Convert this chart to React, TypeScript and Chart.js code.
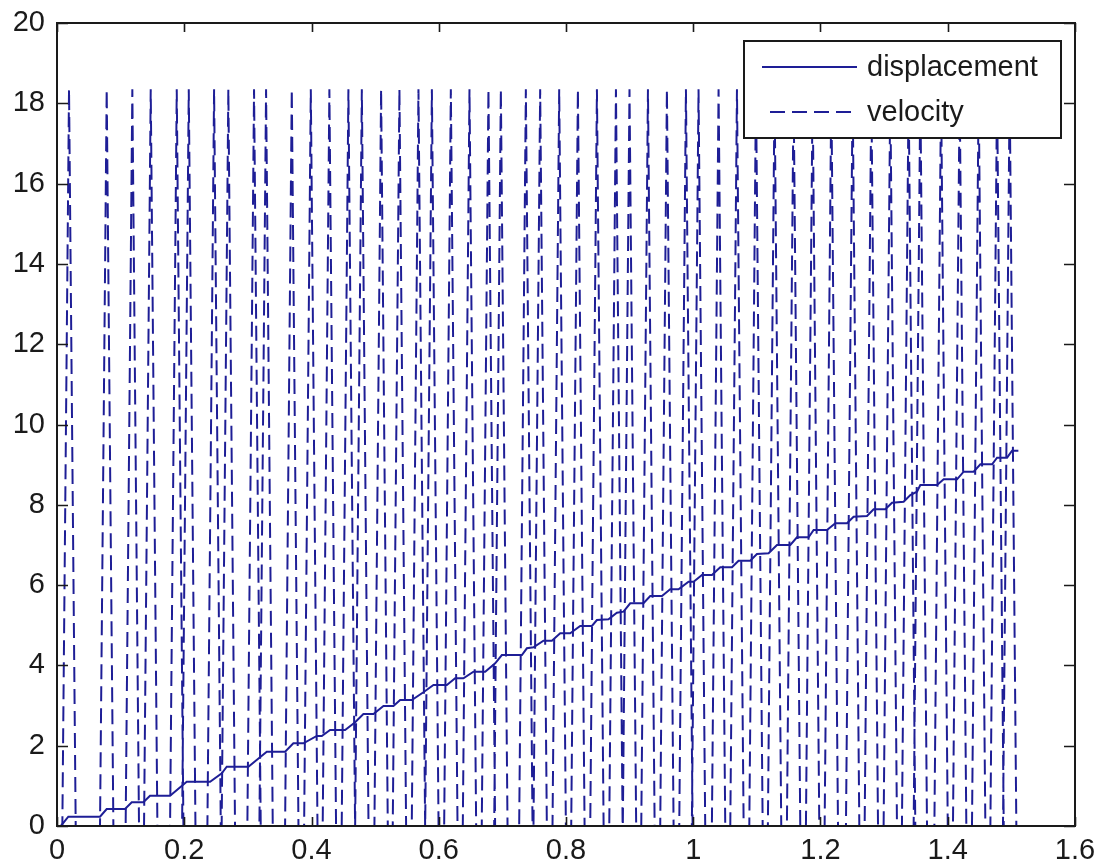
import React, { useEffect, useRef } from 'react';
import { Chart, registerables } from 'chart.js';

Chart.register(...registerables);

// Axis ticks
const xTicks = [0, 0.2, 0.4, 0.6, 0.8, 1, 1.2, 1.4, 1.6];
const yTicks = [0, 2, 4, 6, 8, 10, 12, 14, 16, 18, 20];

// Displacement (staircase)
const dispX = [0, 0.006, 0.0178, 0.0676, 0.0781, 0.1069, 0.1175, 0.1357, 0.1462, 0.1777, 0.2039, 0.2406, 0.259, 0.2668, 0.3008, 0.3297, 0.3585, 0.3715, 0.3873, 0.4083, 0.4162, 0.4292, 0.4528, 0.4686, 0.4816, 0.4973, 0.5131, 0.5288, 0.5393, 0.5577, 0.5759, 0.5917, 0.6127, 0.6258, 0.6388, 0.6546, 0.673, 0.6887, 0.6992, 0.7307, 0.7385, 0.7489, 0.7646, 0.7778, 0.7909, 0.8066, 0.8223, 0.8407, 0.8486, 0.8668, 0.88, 0.8904, 0.9009, 0.9218, 0.9324, 0.9508, 0.9638, 0.9769, 0.9926, 1.0005, 1.0137, 1.0294, 1.0425, 1.0609, 1.0712, 1.0896, 1.1001, 1.1184, 1.1316, 1.1525, 1.163, 1.1813, 1.1892, 1.2102, 1.2233, 1.2417, 1.252, 1.2731, 1.2835, 1.3019, 1.3124, 1.3307, 1.3412, 1.3517, 1.3569, 1.3832, 1.3936, 1.4146, 1.425, 1.4407, 1.4513, 1.4697, 1.4775, 1.4932, 1.5011, 1.511];
const dispY = [0, 0, 0.232, 0.232, 0.423, 0.423, 0.59, 0.59, 0.755, 0.755, 1.103, 1.103, 1.313, 1.477, 1.477, 1.851, 1.851, 2.06, 2.06, 2.242, 2.242, 2.391, 2.391, 2.583, 2.79, 2.79, 2.989, 2.989, 3.138, 3.138, 3.33, 3.512, 3.512, 3.679, 3.679, 3.843, 3.843, 4.052, 4.259, 4.259, 4.426, 4.451, 4.615, 4.615, 4.8, 4.8, 4.981, 4.981, 5.131, 5.148, 5.313, 5.338, 5.547, 5.547, 5.729, 5.729, 5.895, 5.895, 6.085, 6.085, 6.252, 6.252, 6.443, 6.443, 6.608, 6.608, 6.775, 6.792, 6.999, 6.999, 7.191, 7.191, 7.372, 7.372, 7.539, 7.539, 7.704, 7.721, 7.888, 7.888, 8.052, 8.077, 8.244, 8.326, 8.493, 8.493, 8.635, 8.635, 8.824, 8.824, 9.009, 9.009, 9.173, 9.173, 9.347, 9.347];

// Velocity: narrow spikes (peak times)
const spikeTimes = [0.0189, 0.0781, 0.1184, 0.1473, 0.1882, 0.2071, 0.2469, 0.2693, 0.3097, 0.3286, 0.369, 0.3989, 0.4281, 0.458, 0.4791, 0.5094, 0.5382, 0.5681, 0.5892, 0.619, 0.6483, 0.6781, 0.6976, 0.7369, 0.7594, 0.7893, 0.8187, 0.8486, 0.8785, 0.8998, 0.9288, 0.9586, 0.9885, 1.0083, 1.0398, 1.0687, 1.0986, 1.1278, 1.1577, 1.1876, 1.217, 1.2505, 1.2799, 1.3097, 1.3385, 1.3569, 1.3895, 1.4187, 1.4486, 1.4775, 1.4973];
const spikePeak = 18.35;
const spikeBaseHalfWidth = 0.0105;

const LINE_COLOR = 'rgb(30,30,150)';
const TEXT_COLOR = '#1a1a1a';
const FONT_FAMILY = '"Liberation Sans", Arial, sans-serif';

const dispPoints = dispX.map((x, i) => ({ x, y: dispY[i] }));
const velPoints: { x: number; y: number }[] = [{ x: 0, y: 0 }];
spikeTimes.forEach((t) => {
  velPoints.push({ x: t - spikeBaseHalfWidth, y: 0 });
  velPoints.push({ x: t, y: spikePeak });
  velPoints.push({ x: t + spikeBaseHalfWidth, y: 0 });
});

const boxPlugin = {
  id: 'matlabBox',
  afterDatasetsDraw(chart: any) {
    const { ctx, chartArea, scales } = chart;
    const { left, right, top, bottom } = chartArea;
    ctx.save();
    ctx.strokeStyle = TEXT_COLOR;
    ctx.lineWidth = 1.6;
    ctx.beginPath();
    xTicks.forEach((v) => {
      const px = Math.round(scales.x.getPixelForValue(v)) + 0.5;
      ctx.moveTo(px, bottom);
      ctx.lineTo(px, bottom - 9);
      ctx.moveTo(px, top);
      ctx.lineTo(px, top + 9);
    });
    yTicks.forEach((v) => {
      const py = Math.round(scales.y.getPixelForValue(v)) + 0.5;
      ctx.moveTo(left, py);
      ctx.lineTo(left + 11, py);
      ctx.moveTo(right, py);
      ctx.lineTo(right - 11, py);
    });
    ctx.stroke();
    ctx.lineWidth = 2;
    ctx.strokeRect(left, top, right - left, bottom - top);
    ctx.restore();
  },
};

const legendPlugin = {
  id: 'matlabLegend',
  afterDraw(chart: any) {
    const { ctx, chartArea } = chart;
    const bx = chartArea.right - 331;
    const by = chartArea.top + 18;
    const bw = 317;
    const bh = 97;
    ctx.save();
    ctx.fillStyle = '#ffffff';
    ctx.fillRect(bx, by, bw, bh);
    ctx.strokeStyle = TEXT_COLOR;
    ctx.lineWidth = 2;
    ctx.strokeRect(bx, by, bw, bh);
    chart.data.datasets.forEach((ds: any, i: number) => {
      const ly = by + 26 + i * 45;
      ctx.strokeStyle = ds.borderColor;
      ctx.lineWidth = ds.borderWidth;
      ctx.setLineDash(ds.borderDash || []);
      ctx.beginPath();
      ctx.moveTo(bx + (ds.borderDash ? 26 : 18), ly);
      ctx.lineTo(bx + 113, ly);
      ctx.stroke();
      ctx.setLineDash([]);
      ctx.fillStyle = TEXT_COLOR;
      ctx.font = `29px ${FONT_FAMILY}`;
      ctx.textBaseline = 'middle';
      ctx.textAlign = 'left';
      ctx.fillText(ds.label, bx + 123, ly + 1);
    });
    ctx.restore();
  },
};

export default function App() {
  const canvasRef = useRef<HTMLCanvasElement | null>(null);

  useEffect(() => {
    if (!canvasRef.current) return;
    const tickFont = { family: FONT_FAMILY, size: 29 };
    const chart = new Chart(canvasRef.current, {
      type: 'scatter',
      data: {
        datasets: [
          {
            label: 'displacement',
            data: dispPoints,
            showLine: true,
            borderColor: LINE_COLOR,
            backgroundColor: LINE_COLOR,
            borderWidth: 2,
            pointRadius: 0,
            tension: 0,
            fill: false,
          },
          {
            label: 'velocity',
            data: velPoints,
            showLine: true,
            borderColor: LINE_COLOR,
            backgroundColor: LINE_COLOR,
            borderWidth: 2,
            borderDash: [15, 7],
            pointRadius: 0,
            tension: 0,
            fill: false,
          },
        ],
      },
      options: {
        animation: false,
        responsive: false,
        devicePixelRatio: 1,
        events: [],
        layout: { padding: { top: 23, right: 27, left: 0, bottom: 0 } },
        plugins: {
          legend: { display: false },
          tooltip: { enabled: false },
        },
        scales: {
          x: {
            type: 'linear',
            min: 0,
            max: 1.6,
            grid: { display: false, drawTicks: false },
            border: { display: false },
            ticks: {
              padding: 8,
              font: tickFont,
              color: TEXT_COLOR,
              maxRotation: 0,
              autoSkip: false,
              callback: (v: any) => String(v),
            },
            afterBuildTicks: (s: any) => {
              s.ticks = xTicks.map((v) => ({ value: v }));
            },
            afterFit: (s: any) => {
              s.height = 41;
              s.paddingLeft = 0;
              s.paddingRight = 0;
            },
          },
          y: {
            type: 'linear',
            min: 0,
            max: 20,
            grid: { display: false, drawTicks: false },
            border: { display: false },
            ticks: {
              padding: 12,
              font: tickFont,
              color: TEXT_COLOR,
              autoSkip: false,
              callback: (v: any) => String(v),
            },
            afterBuildTicks: (s: any) => {
              s.ticks = yTicks.map((v) => ({ value: v }));
            },
            afterFit: (s: any) => {
              s.width = 57;
              s.paddingTop = 0;
              s.paddingBottom = 0;
            },
          },
        },
      },
      plugins: [boxPlugin, legendPlugin],
    } as any);
    return () => chart.destroy();
  }, []);

  return (
    <div style={{ position: 'absolute', left: 0, top: 0, width: 1102, height: 867, background: '#ffffff' }}>
      <canvas ref={canvasRef} width={1102} height={867} style={{ display: 'block' }} />
    </div>
  );
}
